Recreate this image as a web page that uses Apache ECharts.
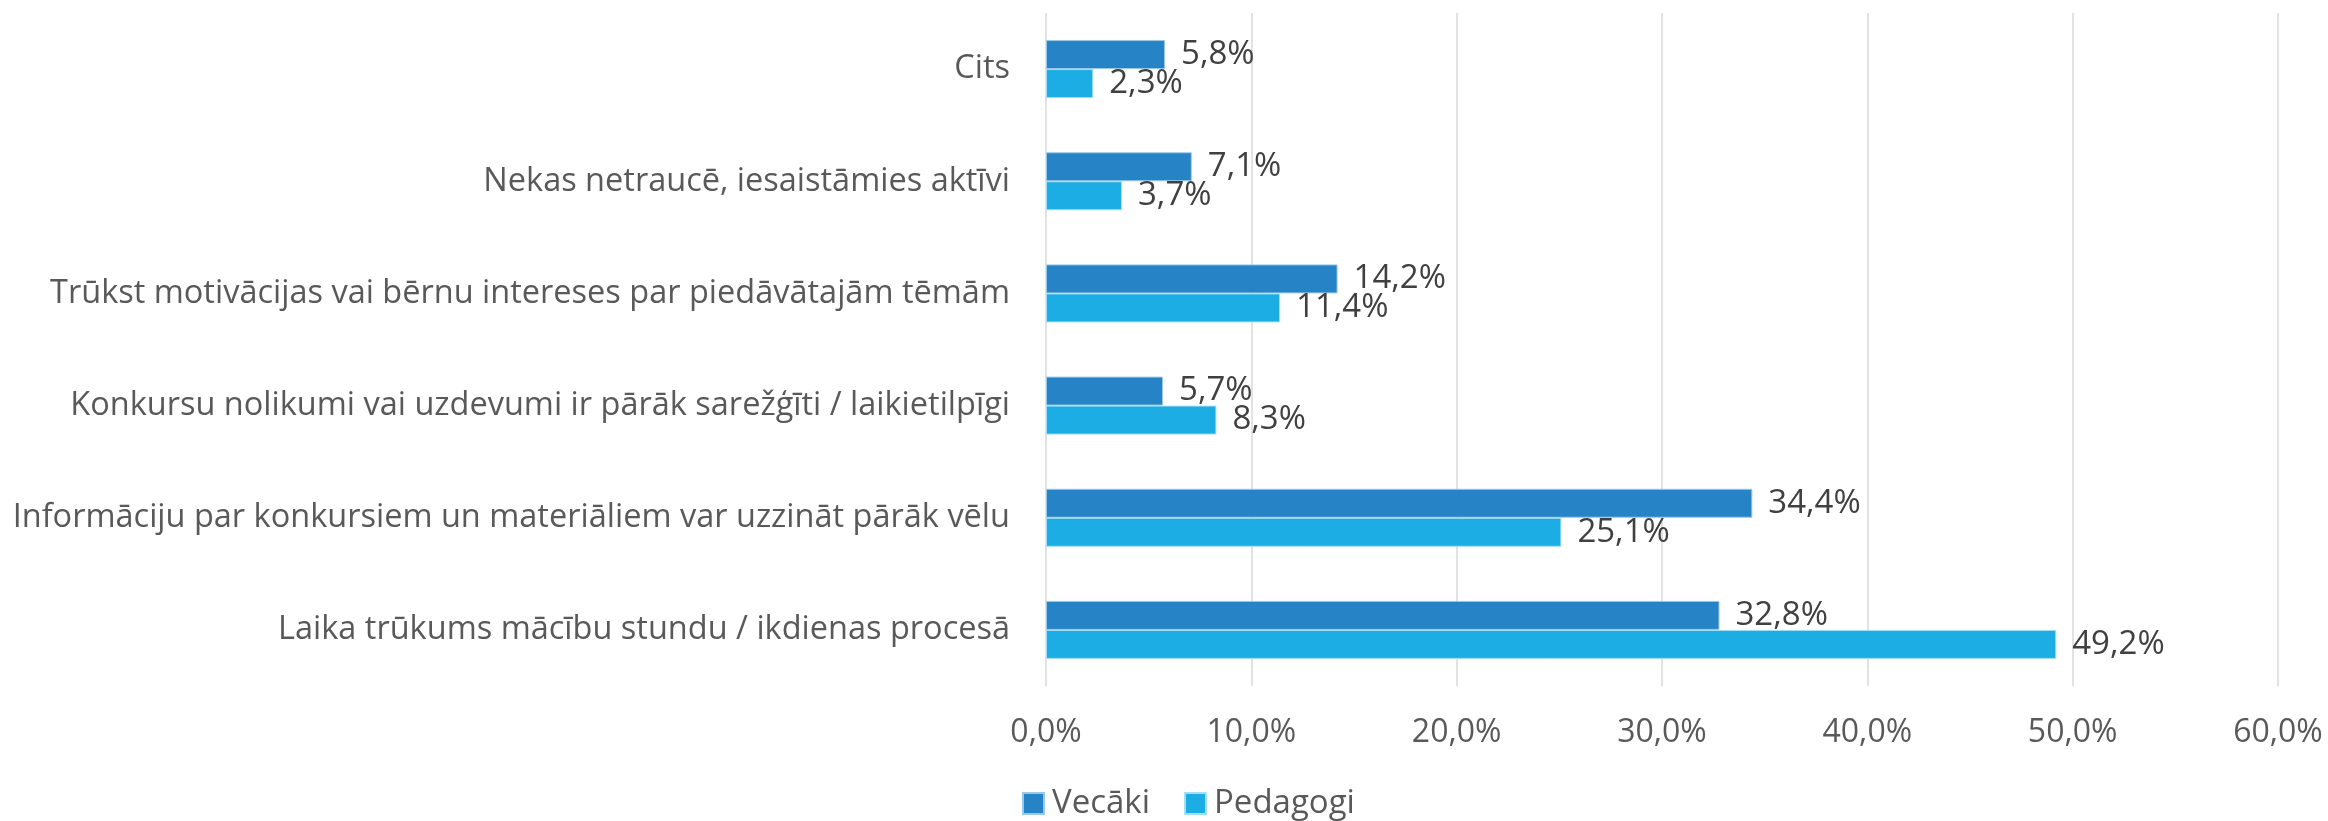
<!DOCTYPE html>
<html>
<head>
<meta charset="utf-8">
<script src="https://cdn.jsdelivr.net/npm/echarts@6/dist/echarts.min.js"></script>
<style>
html, body { margin: 0; padding: 0; background: #fff; }
#chart { width: 2328px; height: 821px; }
</style>
</head>
<body>
<div id="chart"></div>
<script>
// bottom to top, as the category axis draws them
const categories = [
    'Laika trūkums mācību stundu / ikdienas procesā',
    'Informāciju par konkursiem un materiāliem var uzzināt pārāk vēlu',
    'Konkursu nolikumi vai uzdevumi ir pārāk sarežģīti / laikietilpīgi',
    'Trūkst motivācijas vai bērnu intereses par piedāvātajām tēmām',
    'Nekas netraucē, iesaistāmies aktīvi',
    'Cits'
]
const vecaki = [32.8, 34.4, 5.7, 14.2, 7.1, 5.8]
const pedagogi = [49.2, 25.1, 8.3, 11.4, 3.7, 2.3]
const xTicks = [0, 10, 20, 30, 40, 50, 60]

const fmt = v => v.toFixed(1).replace('.', ',') + '%'

let myChart = echarts.init(document.getElementById('chart'))

let option = {
    textStyle: { fontFamily: '"Open Sans", sans-serif' },
    animation: false,
    grid: {
        left: 1046,
        right: 50,
        top: 13,
        bottom: 135
    },
    legend: {
        top: 782,
        left: 1017,
        itemWidth: 21,
        itemHeight: 21,
        itemGap: 34,
        icon: 'rect',
        textStyle: { fontSize: 33, color: '#595959', padding: [0, 0, 0, 3] },
        data: ['Vecāki', 'Pedagogi']
    },
    xAxis: {
        type: 'value',
        min: xTicks[0],
        max: xTicks[xTicks.length - 1],
        interval: 10,
        axisLine: { show: false },
        axisTick: { show: false },
        splitLine: { lineStyle: { color: '#d9d9d9', width: 1.5 } },
        axisLabel: {
            fontSize: 32,
            color: '#595959',
            margin: 31,
            formatter: v => fmt(v)
        }
    },
    yAxis: {
        type: 'category',
        data: categories,
        axisLine: { show: false },
        axisTick: { show: false },
        axisLabel: {
            fontSize: 32.5,
            color: '#595959',
            margin: 36
        }
    },
    series: [
        {
            name: 'Vecāki',
            type: 'bar',
            data: vecaki,
            barWidth: 29,
            barGap: '0%',
            itemStyle: { color: '#2683C6', borderColor: '#9cc8e8', borderWidth: 1 },
            label: {
                show: true,
                position: 'right',
                distance: 16,
                fontSize: 33,
                color: '#404040',
                formatter: p => fmt(p.value)
            }
        },
        {
            name: 'Pedagogi',
            type: 'bar',
            data: pedagogi,
            barWidth: 29,
            barGap: '0%',
            itemStyle: { color: '#1CADE4', borderColor: '#a5def3', borderWidth: 1 },
            label: {
                show: true,
                position: 'right',
                distance: 16,
                fontSize: 33,
                color: '#404040',
                formatter: p => fmt(p.value)
            }
        }
    ]
}
myChart.setOption(option)

window.addEventListener('resize', () => {
    myChart.resize()
})
</script>
</body>
</html>
